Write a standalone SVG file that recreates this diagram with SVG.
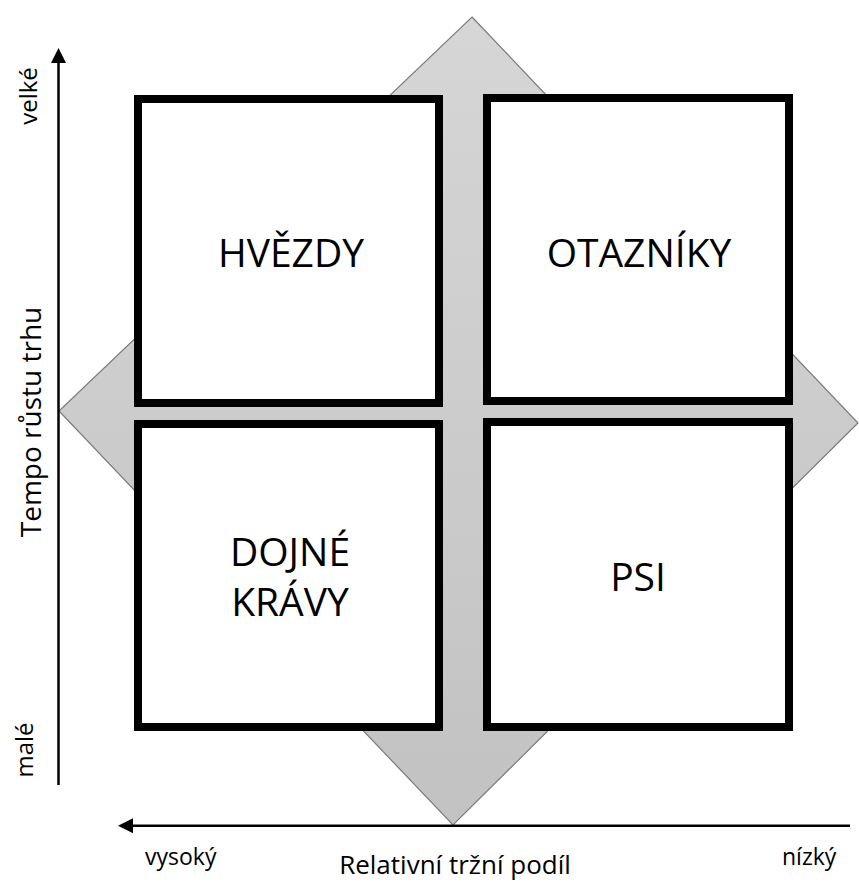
<svg xmlns="http://www.w3.org/2000/svg" width="859" height="882" viewBox="0 0 859 882">
  <style>
    .quad { fill: #ffffff; stroke: #000000; stroke-width: 8; }
    .qlabel { font-family: "Open Sans", "Liberation Sans", sans-serif; font-size: 39px; fill: #000000; text-anchor: middle; }
    .axis { stroke: #000000; stroke-width: 2.5; fill: none; }
    .alabel { font-family: "Open Sans", "Liberation Sans", sans-serif; fill: #000000; }
  </style>
  <defs>
    <linearGradient id="diamondFill" x1="0" y1="0" x2="0" y2="1">
      <stop offset="0" stop-color="#d6d6d6"/>
      <stop offset="1" stop-color="#c2c2c2"/>
    </linearGradient>
    <marker id="arrow" markerWidth="15" markerHeight="15" refX="10" refY="7.5" orient="auto" markerUnits="userSpaceOnUse" viewBox="0 0 15 15">
      <path d="M0,0 L15,7.5 L0,15 Z" fill="#000000"/>
    </marker>
  </defs>

  <rect width="859" height="882" fill="#ffffff"/>

  <!-- background diamond behind the matrix -->
  <g id="diamond">
    <polygon points="472,17 858,423 453,825 59,411" fill="url(#diamondFill)" stroke="#7a7a7a" stroke-width="1.2"/>
  </g>

  <!-- axes -->
  <g id="connectors">
    <line class="axis" x1="58.5" y1="785" x2="58.5" y2="53" marker-end="url(#arrow)"/>
    <line class="axis" x1="850" y1="825.7" x2="123" y2="825.7" marker-end="url(#arrow)"/>
  </g>

  <g id="hvezdy">
    <rect class="quad" x="138" y="99" width="301" height="304"/>
    <text class="qlabel" x="291" y="267">HVĚZDY</text>
  </g>
  <g id="otazniky">
    <rect class="quad" x="487" y="98" width="302" height="303"/>
    <text class="qlabel" x="639" y="267">OTAZNÍKY</text>
  </g>
  <g id="dojne-kravy">
    <rect class="quad" x="138" y="424" width="301" height="303"/>
    <text class="qlabel" x="290" y="566">DOJNÉ</text>
    <text class="qlabel" x="290" y="616">KRÁVY</text>
  </g>
  <g id="psi">
    <rect class="quad" x="487" y="422" width="302" height="305"/>
    <text class="qlabel" x="638" y="591">PSI</text>
  </g>

  <!-- axis labels -->
  <g id="axis-labels">
    <text class="alabel" font-size="24" text-anchor="middle" transform="translate(37,96) rotate(-90)">velké</text>
    <text class="alabel" font-size="24" text-anchor="middle" transform="translate(33,750) rotate(-90)">malé</text>
    <text class="alabel" font-size="28" text-anchor="middle" transform="translate(41,422) rotate(-90)">Tempo růstu trhu</text>
    <text class="alabel" font-size="23" x="145" y="865">vysoký</text>
    <text class="alabel" font-size="23" x="782" y="865">nízký</text>
    <text class="alabel" font-size="26" text-anchor="middle" x="455" y="874">Relativní tržní podíl</text>
  </g>
</svg>
